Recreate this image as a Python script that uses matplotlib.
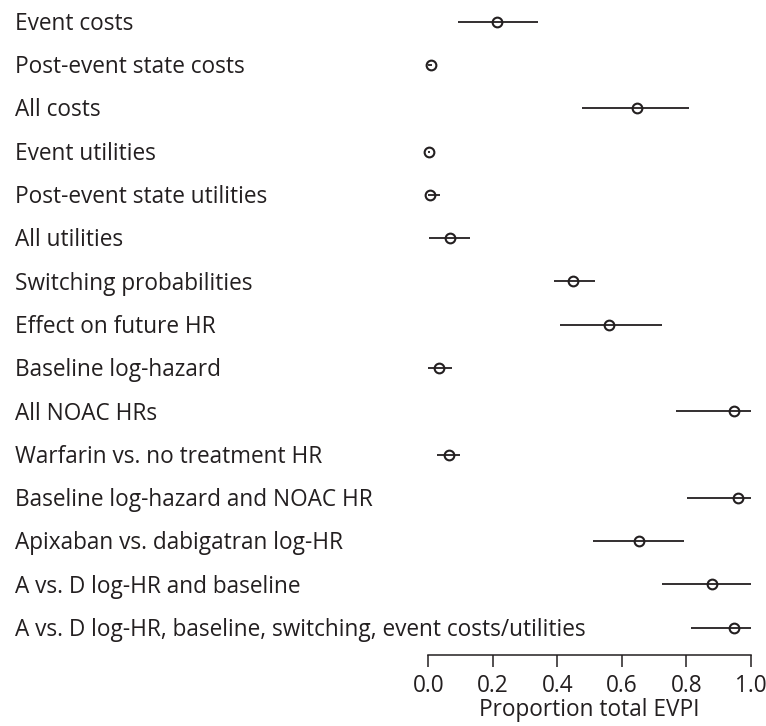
import numpy as np
import matplotlib.pyplot as plt
import matplotlib.transforms as mtransforms

plt.rcParams['font.family'] = ['Open Sans', 'DejaVu Sans']

# parameter groups, top to bottom
labels = [
    "Event costs",
    "Post-event state costs",
    "All costs",
    "Event utilities",
    "Post-event state utilities",
    "All utilities",
    "Switching probabilities",
    "Effect on future HR",
    "Baseline log-hazard",
    "All NOAC HRs",
    "Warfarin vs. no treatment HR",
    "Baseline log-hazard and NOAC HR",
    "Apixaban vs. dabigatran log-HR",
    "A vs. D log-HR and baseline",
    "A vs. D log-HR, baseline, switching, event costs/utilities",
]
# proportion of total EVPI: estimate and interval
est = [0.214, 0.007, 0.646, 0.002, 0.005, 0.066, 0.448, 0.561,
       0.032, 0.947, 0.064, 0.961, 0.652, 0.879, 0.948]
lower = [0.093, 0.000, 0.477, 0.000, 0.000, 0.003, 0.390, 0.409,
         0.000, 0.769, 0.028, 0.801, 0.509, 0.725, 0.813]
upper = [0.339, 0.012, 0.807, 0.004, 0.036, 0.130, 0.516, 0.725,
         0.074, 1.000, 0.099, 1.000, 0.793, 1.000, 1.000]

xticks = [0.0, 0.2, 0.4, 0.6, 0.8, 1.0]
col = '#231f20'
fs = 16.3

fig = plt.figure(figsize=(7.66, 7.26), dpi=100)
ax = fig.add_axes([415.4 / 766, 71 / 726, (763.9 - 415.4) / 766, 655 / 726])

n = len(labels)
y = np.arange(n, 0, -1)

ax.hlines(y, lower, upper, color=col, lw=1.3)
ax.plot(est, y, 'o', mfc='none', mec=col, mew=1.5, ms=7, ls='none')

ax.set_xlim(-0.04, 1.04)
ax.set_ylim(0.371, 15.501)

for s in ['top', 'right', 'left']:
    ax.spines[s].set_visible(False)
ax.spines['bottom'].set_bounds(0, 1)
ax.spines['bottom'].set_color(col)
ax.spines['bottom'].set_linewidth(1.1)
ax.set_yticks([])
ax.set_xticks(xticks)
ax.set_xticklabels([f"{t:.1f}" for t in xticks])
ax.tick_params(axis='x', direction='out', length=8.4, width=1.1, color=col,
               pad=5, labelsize=fs, labelcolor=col)
ax.set_xlabel("Proportion total EVPI", fontsize=fs, color=col, labelpad=0)

# labels sit with caps centred on the row
trans = mtransforms.blended_transform_factory(fig.transFigure, ax.transData)
trans = trans + mtransforms.ScaledTranslation(0, -8.2 / 100, fig.dpi_scale_trans)
for lab, yy in zip(labels, y):
    ax.text(15 / 766, yy, lab, transform=trans, ha='left', va='baseline',
            fontsize=fs, color=col, clip_on=False)

fig.savefig("out.png", dpi=100)
